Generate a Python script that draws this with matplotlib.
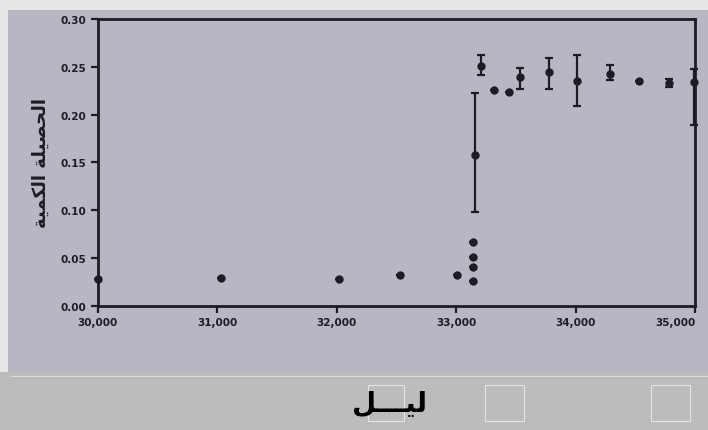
from matplotlib import pyplot as plt
from matplotlib.patches import Rectangle
import numpy as np

# wavenumber values and yields
x = [30000, 31030, 32020, 32530, 33010, 33140, 33140, 33140, 33140, 33160,
     33210, 33320, 33440, 33530, 33780, 34010, 34290, 34530, 34780, 34990]
y = [0.028, 0.029, 0.028, 0.032, 0.032, 0.067, 0.051, 0.041, 0.026, 0.158,
     0.251, 0.226, 0.224, 0.239, 0.244, 0.235, 0.242, 0.235, 0.233, 0.234]
err_lo = [0, 0, 0, 0, 0, 0, 0, 0, 0, 0.060,
          0.010, 0, 0, 0.012, 0.017, 0.026, 0.006, 0, 0.004, 0.045]
err_hi = [0, 0, 0, 0, 0, 0, 0, 0, 0, 0.064,
          0.011, 0, 0, 0.010, 0.015, 0.027, 0.010, 0, 0.004, 0.014]

xticks = [30000, 31000, 32000, 33000, 34000, 35000]
xticklabels = ["30,000", "31,000", "32,000", "33,000", "34,000", "35,000"]
yticks = [0.00, 0.05, 0.10, 0.15, 0.20, 0.25, 0.30]

# arabic text in visual (shaped, left-to-right) order
ylab = "\ufe94\ufef4\ufee4\ufedc\ufedf\ufe8d \ufe94\ufee0\ufef4\ufebc\ufea4\ufedf\ufe8d"
xlab = "\ufede\u0640\u0640\u0640\ufef4\ufedf"

bg = "#b8b6c2"
ink = "#1c1c24"

fig = plt.figure(figsize=(7.08, 4.31), dpi=100, facecolor=bg)

# scan borders and the light strip at the bottom
fig.patches.append(Rectangle((0, 0.975), 1, 0.025, transform=fig.transFigure,
                             facecolor="#e6e6e8", edgecolor="none", zorder=0))
fig.patches.append(Rectangle((0, 0), 0.012, 1, transform=fig.transFigure,
                             facecolor="#e6e6e8", edgecolor="none", zorder=0))
fig.patches.append(Rectangle((0, 0), 1, 0.135, transform=fig.transFigure,
                             facecolor="#bcbcbc", edgecolor="none", zorder=0))
fig.patches.append(Rectangle((0.015, 0.123), 0.985, 0.002, transform=fig.transFigure,
                             facecolor="#dcdcdc", edgecolor="none", zorder=0))
for bx, bw in [(0.52, 0.05), (0.685, 0.055), (0.92, 0.055)]:
    fig.patches.append(Rectangle((bx, 0.02), bw, 0.085, transform=fig.transFigure,
                                 facecolor="none", edgecolor="#e4e4e4", lw=0.8, zorder=1))

ax = fig.add_axes([0.138, 0.288, 0.844, 0.666])
ax.set_facecolor(bg)

ax.errorbar(x, y, yerr=[err_lo, err_hi], fmt="o", color=ink, ms=5,
            elinewidth=1.6, capsize=3, capthick=1.6, clip_on=False, zorder=3)

ax.set_xlim(30000, 35000)
ax.set_ylim(0, 0.30)
ax.set_xticks(xticks)
ax.set_xticklabels(xticklabels)
ax.set_yticks(yticks)
ax.set_yticklabels(["%.2f" % v for v in yticks])

for s in ax.spines.values():
    s.set_color(ink)
    s.set_linewidth(2)
ax.tick_params(direction="out", length=5, width=1.6, color=ink,
               labelsize=7.5, labelcolor=ink, pad=3)
for lab in ax.get_xticklabels() + ax.get_yticklabels():
    lab.set_fontweight("bold")
ax.get_xticklabels()[-1].set_horizontalalignment("right")

ax.set_ylabel(ylab, family=["DejaVu Sans"], fontsize=13, fontweight="bold",
              color=ink, labelpad=8)
fig.text(0.55, 0.03, xlab, family=["DejaVu Sans"], fontsize=20,
         fontweight="bold", color="black", ha="center", va="bottom")

plt.savefig("out.png", dpi=100, facecolor=bg)
